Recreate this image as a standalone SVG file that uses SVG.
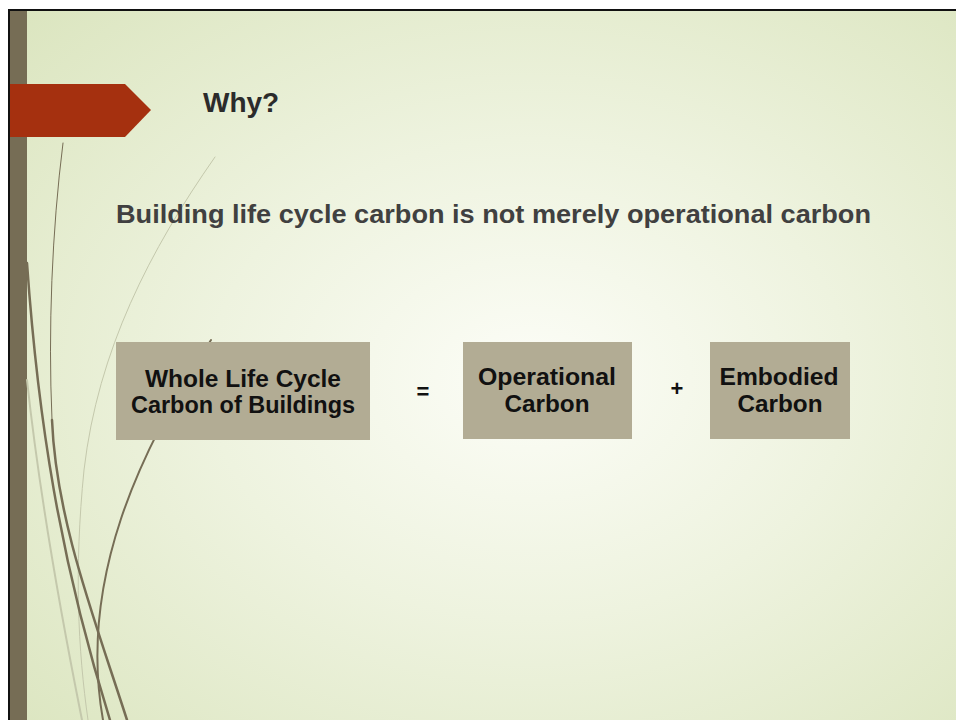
<svg xmlns="http://www.w3.org/2000/svg" width="956" height="720" viewBox="0 0 956 720">
  <defs>
    <radialGradient id="bg" cx="0.55" cy="0.52" r="0.75">
      <stop offset="0" stop-color="#fcfdf7"/>
      <stop offset="0.45" stop-color="#eef3df"/>
      <stop offset="1" stop-color="#dbe5bf"/>
    </radialGradient>
    <style>
      .dark{fill:none;stroke:#766d55;stroke-linecap:round}
      .pale{fill:none;stroke:#c4c8ac;stroke-linecap:round}
      .box{fill:#b2ac94}
      .bt{font-family:"Liberation Sans",Arial,sans-serif;font-weight:bold;font-size:23px;fill:#111;text-anchor:middle}
      .op{font-family:"Liberation Sans",Arial,sans-serif;font-weight:bold;font-size:22px;fill:#111;text-anchor:middle}
    </style>
  </defs>
  <rect x="0" y="0" width="956" height="720" fill="#ffffff"/>
  <rect x="9" y="10" width="947" height="710" fill="url(#bg)"/>
  <rect x="8" y="9" width="948" height="2" fill="#111"/>
  <rect x="8" y="9" width="2" height="711" fill="#111"/>
  <rect x="10" y="11" width="17" height="709" fill="#766d55"/>

  <g id="wisps">
    <path class="pale" stroke-width="1" d="M215,157 C150,250 98,350 84,470 C74,570 78,650 88,720"/>
    <path class="pale" stroke-width="2" d="M27,380 C40,500 62,620 82,720"/>
    <path class="dark" stroke-width="1" d="M63,143 C52,230 48,330 52,420"/>
    <path class="dark" stroke-width="2.5" d="M52,420 C56,520 95,620 127,720"/>
    <path class="dark" stroke-width="2.5" d="M27,263 C38,420 60,560 110,720"/>
    <path class="dark" stroke-width="2" d="M211,340 C140,450 78,580 103,720"/>
  </g>

  <polygon id="tab" points="10,84 125,84 151,110 125,137 10,137" fill="#a5300f"/>
  <text id="title" x="203" y="112" font-family="'Liberation Sans',Arial,sans-serif" font-weight="bold" font-size="28" fill="#2b2b2b">Why?</text>
  <text id="subtitle" x="116" y="223" font-family="'Liberation Sans',Arial,sans-serif" font-weight="bold" font-size="25" fill="#404040" textLength="755" lengthAdjust="spacingAndGlyphs">Building life cycle carbon is not merely operational carbon</text>

  <g id="node-whole">
    <rect class="box" x="116" y="342" width="254" height="98"/>
    <text class="bt" x="243" y="387" textLength="196" lengthAdjust="spacingAndGlyphs">Whole Life Cycle</text>
    <text class="bt" x="243" y="413" textLength="224" lengthAdjust="spacingAndGlyphs">Carbon of Buildings</text>
  </g>
  <g id="node-operational">
    <rect class="box" x="463" y="342" width="169" height="97"/>
    <text class="bt" x="547" y="385" textLength="138" lengthAdjust="spacingAndGlyphs">Operational</text>
    <text class="bt" x="547" y="412" textLength="85" lengthAdjust="spacingAndGlyphs">Carbon</text>
  </g>
  <g id="node-embodied">
    <rect class="box" x="710" y="342" width="140" height="97"/>
    <text class="bt" x="779" y="385" textLength="119" lengthAdjust="spacingAndGlyphs">Embodied</text>
    <text class="bt" x="780" y="412" textLength="85" lengthAdjust="spacingAndGlyphs">Carbon</text>
  </g>
  <g id="connectors">
    <text class="op" x="423" y="399">=</text>
    <text class="op" x="677" y="396">+</text>
  </g>
</svg>
